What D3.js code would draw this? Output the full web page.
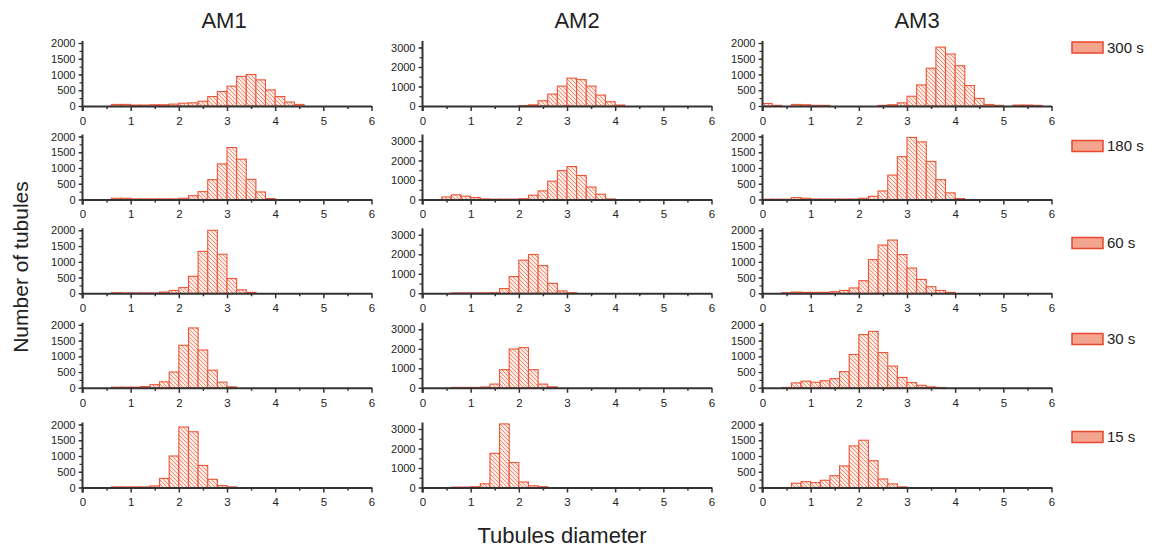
<!DOCTYPE html>
<html><head><meta charset="utf-8">
<script src="https://cdn.jsdelivr.net/npm/d3@7"></script>
<style>body{margin:0;background:#fff}svg{display:block;font-family:"Liberation Sans",Arial,Helvetica,sans-serif}</style>
</head><body><svg id="c" width="1155" height="548"></svg>
<script>
// ---- data ----
const columns = ["AM1", "AM2", "AM3"];
const times = ["300 s", "180 s", "60 s", "30 s", "15 s"];
const binStarts = [0,0.2,0.4,0.6,0.8,1.0,1.2,1.4,1.6,1.8,2.0,2.2,2.4,2.6,2.8,3.0,3.2,3.4,3.6,3.8,4.0,4.2,4.4,4.6,4.8,5.0,5.2,5.4,5.6,5.8];
const binWidth = 0.2;
const xTicks = [0,1,2,3,4,5,6];
const yTicksAM13 = [0,500,1000,1500,2000];
const yTicksAM2 = [0,1000,2000,3000];

const am1_300 = [0,0,0,50,50,30,30,40,40,60,90,100,150,300,460,630,940,1000,830,510,300,125,50,0,0,0,0,0,0,0];
const am1_180 = [0,0,0,40,40,20,20,20,20,20,40,120,250,630,1130,1650,1280,640,240,30,0,0,0,0,0,0,0,0,0,0];
const am1_60  = [0,0,0,20,10,10,10,10,40,90,180,540,1330,2000,1240,470,110,30,0,0,0,0,0,0,0,0,0,0,0,0];
const am1_30  = [0,0,0,20,20,20,40,100,190,500,1350,1900,1200,560,180,30,0,0,0,0,0,0,0,0,0,0,0,0,0,0];
const am1_15  = [0,0,0,20,20,20,20,50,290,1000,1920,1770,700,260,60,20,0,0,0,0,0,0,0,0,0,0,0,0,0,0];

const am2_300 = [0,0,0,0,0,0,0,0,0,0,20,60,270,610,1020,1430,1350,1020,560,220,50,0,0,0,0,0,0,0,0,0];
const am2_180 = [0,0,130,240,170,100,30,20,20,20,40,220,440,940,1480,1690,1230,640,270,30,0,0,0,0,0,0,0,0,0,0];
const am2_60  = [0,0,0,20,20,20,20,30,240,860,1700,1990,1420,510,120,30,0,0,0,0,0,0,0,0,0,0,0,0,0,0];
const am2_30  = [0,0,0,20,20,20,40,190,930,1990,2060,930,190,50,0,0,0,0,0,0,0,0,0,0,0,0,0,0,0,0];
const am2_15  = [0,0,0,20,20,40,190,1750,3260,1280,280,90,40,0,0,0,0,0,0,0,0,0,0,0,0,0,0,0,0,0];

const am3_300 = [80,20,0,50,40,20,20,0,0,0,0,0,20,40,100,310,670,1200,1870,1650,1280,650,240,50,20,0,30,30,20,0];
const am3_180 = [10,10,10,60,40,15,15,15,15,15,40,100,270,775,1360,1970,1830,1210,630,210,30,0,0,0,0,0,0,0,0,0];
const am3_60  = [0,0,20,40,30,30,30,50,90,170,400,1070,1530,1690,1230,800,440,210,90,30,0,0,0,0,0,0,0,0,0,0];
const am3_30  = [0,0,10,155,210,175,225,290,515,1060,1690,1790,1120,690,330,165,80,30,10,0,0,0,0,0,0,0,0,0,0,0];
const am3_15  = [0,0,0,135,185,155,230,375,685,1320,1500,850,270,115,20,0,0,0,0,0,0,0,0,0,0,0,0,0,0,0];

const panelData = [
  [am1_300, am2_300, am3_300],
  [am1_180, am2_180, am3_180],
  [am1_60,  am2_60,  am3_60],
  [am1_30,  am2_30,  am3_30],
  [am1_15,  am2_15,  am3_15]
];
const yMax = [2000, 3230, 2000];
const yTickSets = [yTicksAM13, yTicksAM2, yTicksAM13];
const yMinorStep = [250, 500, 250];

// ---- layout ----
const svg = d3.select("#c");
const colX = [[82.5, 371.5], [422.5, 711.5], [762.5, 1051.5]];
const rowBase = [106, 199.5, 293.3, 387.8, 487.5];
const legendY = [47.5, 146, 243, 339, 437];
const plotH = 63;
const titleX = [224, 577, 917];
const axisColor = "#333";
const barStroke = "#ec5537";

const defs = svg.append("defs");
const pat = defs.append("pattern").attr("id", "hatch").attr("patternUnits", "userSpaceOnUse")
  .attr("width", 4).attr("height", 4);
pat.append("rect").attr("width", 4).attr("height", 4).attr("fill", "#fdece6");
pat.append("path").attr("d", "M-1,-1 L5,5 M-1,3 L1,5 M3,-1 L5,1")
  .attr("stroke", "#f2866b").attr("stroke-width", 0.95);

columns.forEach((c, ci) => {
  svg.append("text").attr("x", titleX[ci]).attr("y", 28).attr("text-anchor", "middle")
    .attr("font-size", 22).attr("fill", "#222").text(c);
});

panelData.forEach((row, ri) => {
  row.forEach((vals, ci) => {
    const base = rowBase[ri];
    const x = d3.scaleLinear().domain([0, 6]).range(colX[ci]);
    const y = d3.scaleLinear().domain([0, yMax[ci]]).range([base, base - plotH]);
    const g = svg.append("g");

    // bars
    g.selectAll("rect.bar").data(binStarts.map((b, i) => ({ b, v: vals[i] })).filter(d => d.v > 0))
      .join("rect").attr("class", "bar")
      .attr("x", d => x(d.b)).attr("width", d => x(d.b + binWidth) - x(d.b))
      .attr("y", d => y(d.v)).attr("height", d => base - y(d.v))
      .attr("fill", "url(#hatch)").attr("stroke", barStroke).attr("stroke-width", 1.1);

    // x axis
    const xa = d3.axisBottom(x).tickValues(xTicks).tickSize(5).tickSizeOuter(0).tickFormat(d3.format("d"));
    const xg = g.append("g").attr("transform", `translate(0,${base})`).call(xa);
    xg.select(".domain").attr("stroke", axisColor).attr("stroke-width", 2);
    xg.selectAll(".tick line").attr("stroke", axisColor).attr("stroke-width", 1.5);
    xg.selectAll(".tick text").attr("font-size", 11.5).attr("fill", "#222").attr("dy", "0.95em")
      .attr("font-family", "'Liberation Sans', Arial, sans-serif");
    const xMinor = d3.axisBottom(x).tickValues([0.5,1.5,2.5,3.5,4.5,5.5]).tickSize(3).tickFormat("");
    const xm = g.append("g").attr("transform", `translate(0,${base})`).call(xMinor);
    xm.select(".domain").remove();
    xm.selectAll(".tick line").attr("stroke", axisColor).attr("stroke-width", 1.5);

    // y axis
    const ya = d3.axisLeft(y).tickValues(yTickSets[ci]).tickSize(4).tickSizeOuter(0).tickFormat(d3.format("d"));
    const yg = g.append("g").attr("transform", `translate(${colX[ci][0]},0)`).call(ya);
    yg.select(".domain").remove();
    yg.selectAll(".tick line").attr("stroke", axisColor).attr("stroke-width", 1.2);
    yg.selectAll(".tick text").attr("font-size", 11).attr("fill", "#222").attr("x", -7)
      .attr("font-family", "'Liberation Sans', Arial, sans-serif");
    const minorVals = d3.range(0, yMax[ci] + 1, yMinorStep[ci]);
    const ym = d3.axisLeft(y).tickValues(minorVals).tickSize(3).tickFormat("");
    const ymg = g.append("g").attr("transform", `translate(${colX[ci][0]},0)`).call(ym);
    ymg.select(".domain").remove();
    ymg.selectAll(".tick line").attr("stroke", axisColor).attr("stroke-width", 1.2);
    g.append("line").attr("x1", colX[ci][0]).attr("x2", colX[ci][0])
      .attr("y1", base + 5).attr("y2", y(yMax[ci]) - 2)
      .attr("stroke", axisColor).attr("stroke-width", 2);
  });

  // legend
  const lg = svg.append("g").attr("transform", `translate(1072,${legendY[ri]})`);
  lg.append("rect").attr("x", 0).attr("y", -5.5).attr("width", 31).attr("height", 11)
    .attr("fill", "#f4a58f").attr("stroke", "#e8472e").attr("stroke-width", 1.5);
  lg.append("text").attr("x", 35).attr("y", 0).attr("dy", "0.36em").attr("font-size", 15)
    .attr("fill", "#222").text(times[ri]);
});

svg.append("text").attr("x", 562).attr("y", 543).attr("text-anchor", "middle")
  .attr("font-size", 22).attr("fill", "#222").text("Tubules diameter");
svg.append("text").attr("transform", "translate(28,267) rotate(-90)").attr("text-anchor", "middle")
  .attr("font-size", 21).attr("fill", "#222").text("Number of tubules");
</script></body></html>
